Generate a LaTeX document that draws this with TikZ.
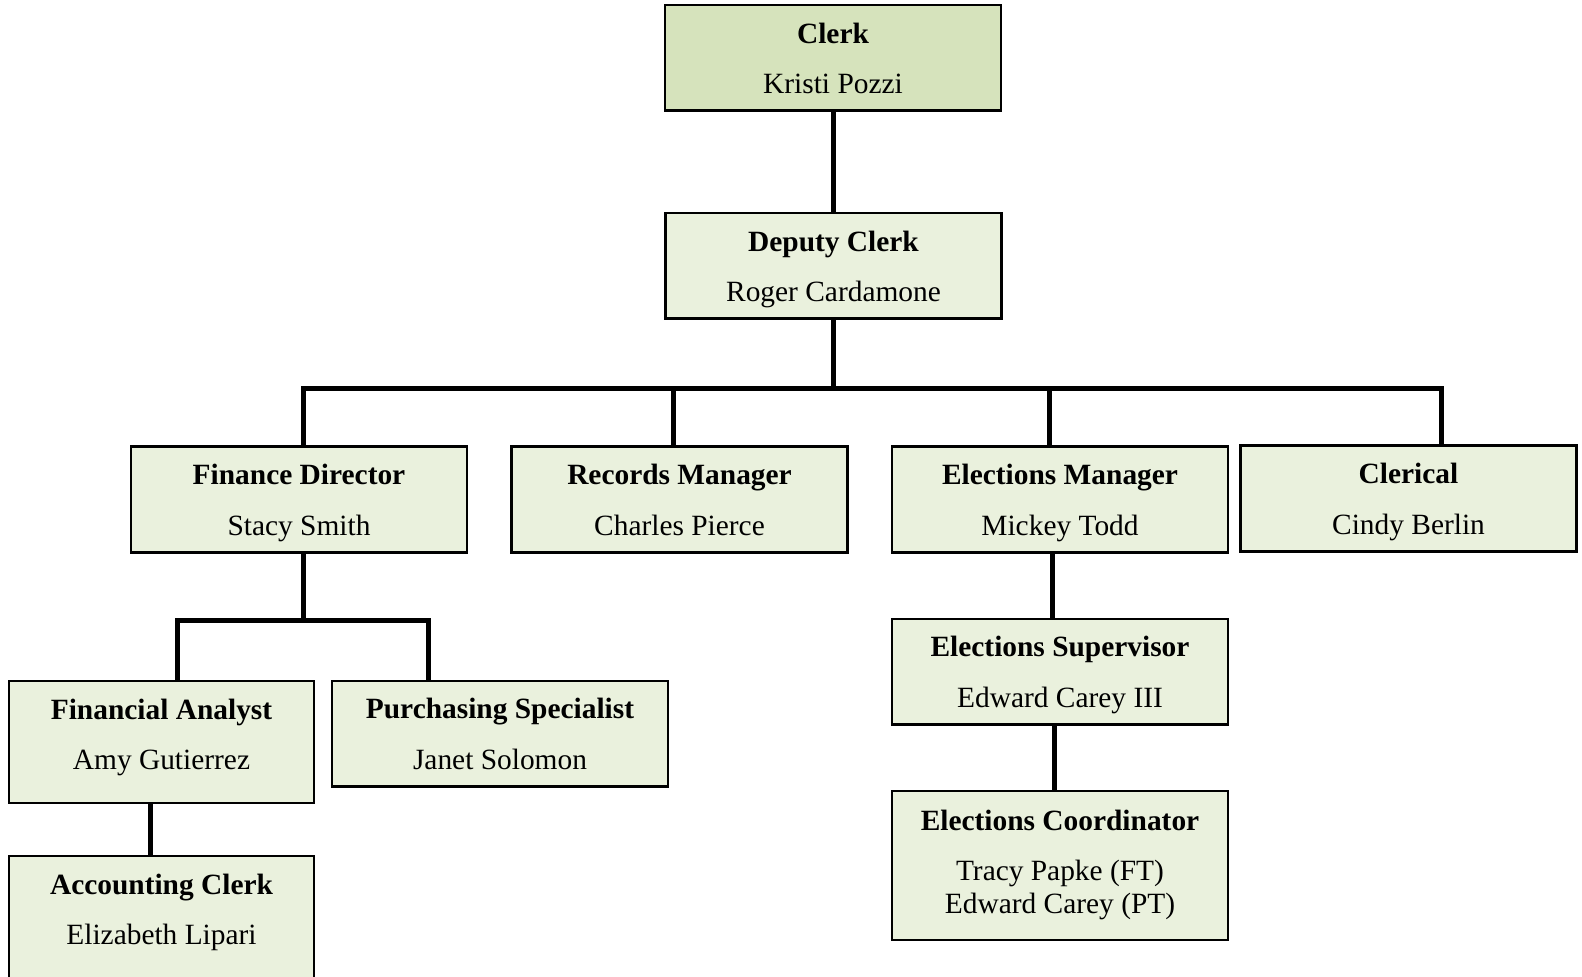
\documentclass[tikz,border=0pt]{standalone}
\usepackage{fontspec}
\setmainfont{Liberation Serif}
\usetikzlibrary{positioning}
\definecolor{olivetop}{RGB}{214,227,188}
\definecolor{olivelight}{RGB}{234,241,221}
\tikzset{
  post/.style={draw=black, line width=1.25pt, fill=olivelight, align=center,
    minimum width=168pt, minimum height=52.75pt, inner sep=0pt,
    font=\fontsize{14.7}{16.7}\selectfont},
  topbox/.style={post, fill=olivetop},
  link/.style={line width=2.5pt},
}
% title and name, optional extra room under the last line
\newcommand{\postbox}[3][0pt]{\vrule width0pt height14.5pt depth0pt\textbf{#2}\\[8.5pt]#3\vrule width0pt height0pt depth\dimexpr4pt+#1\relax}

\begin{document}
\begin{tikzpicture}[x=0.5pt,y=-0.5pt]
\useasboundingbox (0,0) rectangle (1582,977);
% Clerk and deputy
\node[topbox] (clerk) at (833,58) {\postbox{Clerk}{Kristi Pozzi}};
\node[post] (deputy) at (833.5,266) {\postbox{Deputy Clerk}{Roger Cardamone}};
% Managers
\node[post] (finance) at (299,499.5) {\postbox{Finance Director}{Stacy Smith}};
\node[post] (records) at (679.5,499.5) {\postbox{Records Manager}{Charles Pierce}};
\node[post] (elections) at (1060,499.5) {\postbox{Elections Manager}{Mickey Todd}};
\node[post] (clerical) at (1408.5,498.5) {\postbox{Clerical}{Cindy Berlin}};
% Finance staff
\node[post, minimum width=152.5pt, minimum height=61pt] (analyst) at (161.5,742) {\postbox[8.25pt]{Financial Analyst}{Amy Gutierrez}};
\node[post] (purchasing) at (500,733.5) {\postbox{Purchasing Specialist}{Janet Solomon}};
\node[post, minimum width=152.5pt, minimum height=66pt] (accounting) at (161.5,922) {\postbox[13.25pt]{Accounting Clerk}{Elizabeth Lipari}};
% Elections staff
\node[post] (supervisor) at (1060,671.5) {\postbox{Elections Supervisor}{Edward Carey III}};
\node[post, minimum height=74.5pt] (coordinator) at (1060,865.5) {\postbox[4pt]{Elections Coordinator}{Tracy Papke (FT)\\Edward Carey (PT)}};
% Bus under the deputy
\coordinate (b1) at (303,388.5);
\coordinate (b2) at (673,388.5);
\coordinate (b3) at (1049,388.5);
\coordinate (b4) at (1441,388.5);
\coordinate (f1) at (177,620);
\coordinate (f2) at (428,620);
% Connectors
\draw[link] (clerk.south -| deputy) -- (deputy);
\draw[link] (deputy) -- (deputy |- b1);
\draw[link] (b1 |- finance.north) -- (b1) -- (b4) -- (b4 |- clerical.north);
\draw[link] (b2) -- (b2 |- records.north);
\draw[link] (b3) -- (b3 |- elections.north);
\draw[link] (finance.south -| b1) -- (b1 |- f1);
\draw[link] (f1 |- analyst.north) -- (f1) -- (f2) -- (f2 |- purchasing.north);
\draw[link] ([xshift=-5.5pt]analyst.south) -- ([xshift=-5.5pt]accounting.north);
\draw[link] ([xshift=-3.75pt]elections.south) -- ([xshift=-3.75pt]supervisor.north);
\draw[link] ([xshift=-2.75pt]supervisor.south) -- ([xshift=-2.75pt]coordinator.north);
\end{tikzpicture}
\end{document}
